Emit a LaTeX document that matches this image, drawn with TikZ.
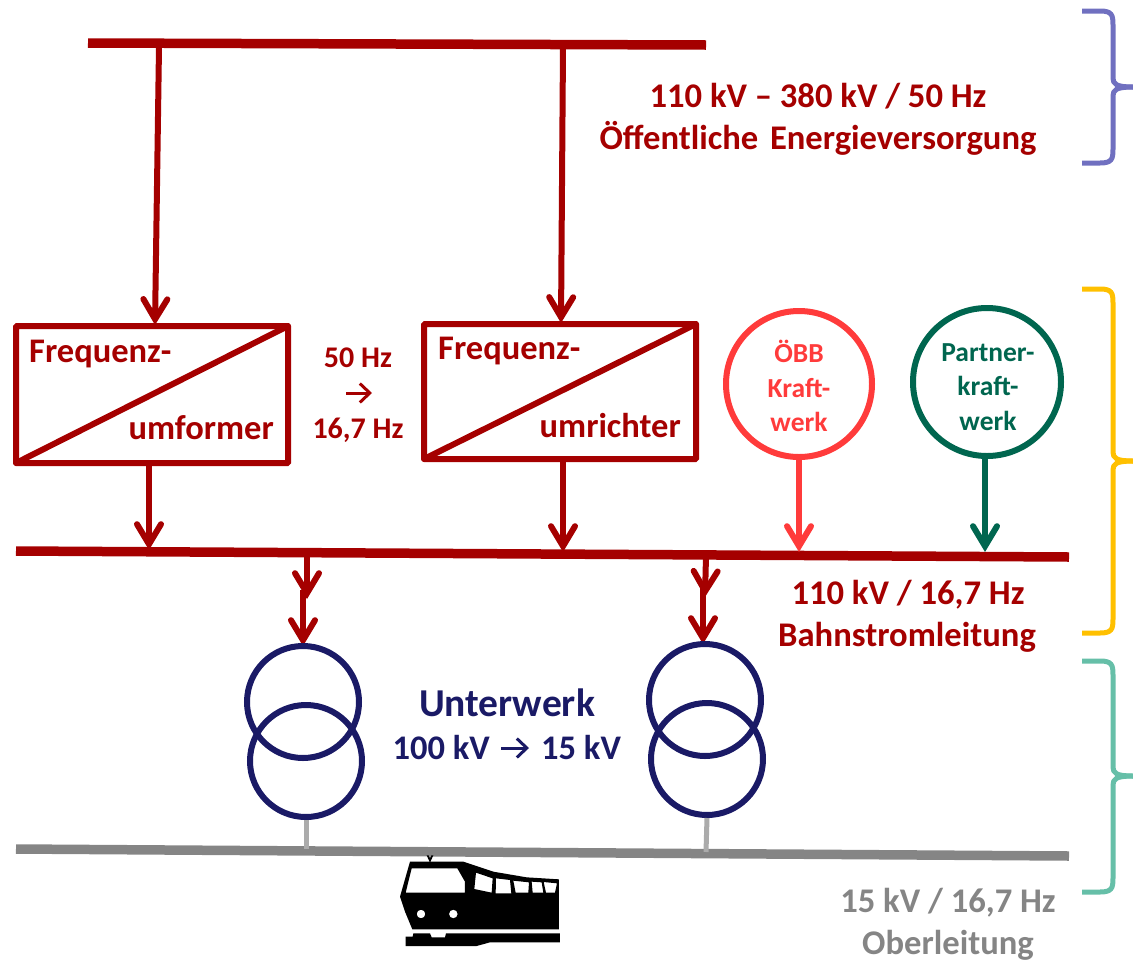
\documentclass[tikz,border=0pt]{standalone}
\usepackage{fontspec}
\setmainfont{Carlito}
\usetikzlibrary{arrows.meta}
\definecolor{dred}{HTML}{A50000}
\definecolor{lred}{HTML}{FF3B3B}
\definecolor{dgreen}{HTML}{00664F}
\definecolor{navy}{HTML}{1A1A66}
\definecolor{gry}{HTML}{858585}
\definecolor{lgry}{HTML}{ABABAB}
\definecolor{bviolet}{HTML}{7070C0}
\definecolor{byellow}{HTML}{FFC000}
\definecolor{bgreen}{HTML}{66BFA8}
\tikzset{
  x=1pt,y=-1pt,
  bus/.style={line width=9.5pt},
  conn/.style={line width=6pt,-{Straight Barb[length=20pt,width=24pt,line cap=round,line join=miter,line width=6pt]}},
  stem/.style={line width=6pt},
  conv/.style={draw=dred,line width=6pt,rounded corners=1pt},
  txt/.style={font=\bfseries\fontsize{34.5}{36}\selectfont,align=center,inner sep=0pt},
  lbl/.style={font=\bfseries\fontsize{34.6}{41}\selectfont,align=center,inner sep=0pt},
  stxt/.style={font=\bfseries\fontsize{27.5}{34.5}\selectfont,align=center,inner sep=0pt},
  hz/.style={font=\bfseries\fontsize{30}{30}\selectfont,dred,inner sep=0pt},
  circ/.style={circle,draw,line width=6pt,inner sep=0pt,fill=none},
  brace/.style={line width=5pt,line cap=butt,line join=round}
}
\newcommand{\brc}[4]{% color, top, mid, bottom
  \draw[brace,#1] (1082,#2) -- (1100,#2) .. controls (1112,#2) and (1113,#2+4) .. (1113,#2+14)
    -- (1113,#3-9) .. controls (1113,#3-3) and (1116,#3) .. (1133,#3);
  \draw[brace,#1] (1133,#3) .. controls (1116,#3) and (1113,#3+3) .. (1113,#3+9)
    -- (1113,#4-14) .. controls (1113,#4-4) and (1112,#4) .. (1100,#4) -- (1082,#4);
}
\begin{document}
\begin{tikzpicture}
\useasboundingbox (0,0) rectangle (1133,959);
% buses
\coordinate (b1l) at (88,43); \coordinate (b1r) at (706,45);
\coordinate (b2l) at (16,551); \coordinate (b2r) at (1069,557);
\coordinate (b3l) at (16,849); \coordinate (b3r) at (1069,856);
\draw[bus,dred] (b1l) -- (b1r);
\draw[bus,dred] (b2l) -- (b2r);
\draw[bus,gry] (b3l) -- (b3r);
% converters
\coordinate (c1a) at (16,326); \coordinate (c1b) at (288,463);
\coordinate (c2a) at (424,324); \coordinate (c2b) at (696,459);
\draw[conv] (c1a) rectangle (c1b);
\draw[conv,line cap=round] (16,463) -- (288,326);
\draw[conv] (c2a) rectangle (c2b);
\draw[conv,line cap=round] (424,459) -- (696,324);
\node[txt,dred,anchor=base west] (f1) at (29,362) {Frequenz-};
\node[txt,dred,anchor=base east] (u1) at (274,439) {umformer};
\node[txt,dred,anchor=base west] (f2) at (438,359) {Frequenz-};
\node[txt,dred,anchor=base east] (u2) at (681,437) {umrichter};
\node[hz] (hz1) at (358,358) {50 Hz};
\node[hz] (hz2) at (358,430) {16,7 Hz};
\coordinate (ha) at (346,393); \coordinate (hb) at (372,393);
\draw[dred,line width=3pt,-{Straight Barb[length=10pt,width=19pt,line width=3pt]}] (ha) -- (hb);
% circles
\node[circ,draw=lred,minimum size=146pt] (oebb) at (799,384) {};
\node[circ,draw=dgreen,minimum size=148pt] (part) at (987,382) {};
\node[stxt,lred] (oebbt) at (799,386) {ÖBB\\Kraft-\\werk};
\node[stxt,dgreen] (partt) at (988,387) {Partner-\\kraft-\\werk};
% arrows
\coordinate (a1s) at (159,47); \coordinate (a1e) at (155,325);
\coordinate (a2s) at (563,47); \coordinate (a2e) at (561,323);
\coordinate (a3s) at (149,465); \coordinate (a3e) at (149,550);
\coordinate (a4s) at (563,461); \coordinate (a4e) at (563,552);
\coordinate (a5e) at (799,552); \coordinate (a6e) at (985,552);
\coordinate (a7s) at (307,555); \coordinate (a7m) at (307,599);
\coordinate (a7n) at (303,590); \coordinate (a7e) at (303,646);
\coordinate (a8s) at (706,556); \coordinate (a8m) at (705,597);
\coordinate (a8n) at (703,588); \coordinate (a8e) at (703,644);
\draw[conn,dred] (a1s) -- (a1e);
\draw[conn,dred] (a2s) -- (a2e);
\draw[conn,dred] (a3s) -- (a3e);
\draw[conn,dred] (a4s) -- (a4e);
\draw[conn,lred] (oebb.south) -- (a5e);
\draw[conn,dgreen] (part.south -| a6e) -- (a6e);
\draw[conn,dred] (a7s) -- (a7m);
\draw[conn,dred] (a7n) -- (a7e);
\draw[conn,dred] (a8s) -- (a8m);
\draw[conn,dred] (a8n) -- (a8e);
% transformers
\node[circ,draw=navy,minimum size=112pt] (t1a) at (303,702) {};
\node[circ,draw=navy,minimum size=112pt] (t1b) at (306,761) {};
\node[circ,draw=navy,minimum size=112pt] (t2a) at (705,700) {};
\node[circ,draw=navy,minimum size=112pt] (t2b) at (707,759) {};
\coordinate (g1) at (306,849); \coordinate (g2) at (706,852);
\draw[lgry,line width=5pt] (t1b.south) -- (g1);
\draw[lgry,line width=5pt] (t2b.south) -- (g2);
% labels
\node[lbl,dred,anchor=center] (l1a) at (818,96) {110 kV – 380 kV / 50 Hz};
\node[lbl,dred,anchor=center] (l1b) at (818,138) {Öffentliche\hspace{4pt} Energieversorgung};
\node[lbl,dred] (l2a) at (908,595) {110 kV / 16,7 Hz};
\node[lbl,dred] (l2b) at (907,637) {Bahnstromleitung};
\node[navy,font=\bfseries\fontsize{39.5}{36}\selectfont,inner sep=0pt] (l3) at (507,703) {Unterwerk};
\node[navy,font=\bfseries\fontsize{34.5}{30}\selectfont,inner sep=0pt,anchor=east] (l4a) at (490,748) {100 kV};
\node[navy,font=\bfseries\fontsize{34.5}{30}\selectfont,inner sep=0pt,anchor=west] (l4b) at (541,748) {15 kV};
\coordinate (na) at (501,748); \coordinate (nb) at (529,748);
\draw[navy,line width=3pt,-{Straight Barb[length=10pt,width=19pt,line width=3pt]}] (na) -- (nb);
\node[lbl,gry] (l5a) at (948,903) {15 kV / 16,7 Hz};
\node[lbl,gry] (l5b) at (948,945) {Oberleitung};
% braces
\brc{bviolet}{11}{87}{163}
\brc{byellow}{289}{461}{633}
\brc{bgreen}{661}{776}{892}
% train
\begin{scope}[shift={(380,840)},x=0.3333pt,y=-0.3333pt]
\fill (150,68) -- (140,46) -- (146,46) -- (150,54) -- (154,46) -- (160,46) -- cycle;
\fill[even odd rule] (90,65) -- (250,65) -- (340,95) -- (440,112) -- (537,118) -- (537,268) -- (97,268) -- (75,215) -- (60,170) -- cycle
 (95,85) -- (232,85) -- (255,125) -- (255,158) -- (77,158) -- cycle
 (288,98) -- (338,115) -- (335,158) -- (283,147) -- cycle
 (348,115) -- (390,120) -- (394,160) -- (347,160) -- cycle
 (400,122) -- (447,127) -- (445,158) -- (407,158) -- cycle
 (455,125) -- (485,127) -- (490,158) -- (458,158) -- cycle
 (491,126) -- (531,130) -- (525,158) -- (498,158) -- cycle
 (123,222) circle[radius=13] (220,222) circle[radius=13];
\fill (77,290) -- (98,290) -- (100,280) -- (150,280) -- (155,292) -- (195,292) -- (198,280) -- (540,280) -- (540,307) -- (330,307) -- (290,318) -- (77,318) -- cycle;
\end{scope}
\end{tikzpicture}
\end{document}
